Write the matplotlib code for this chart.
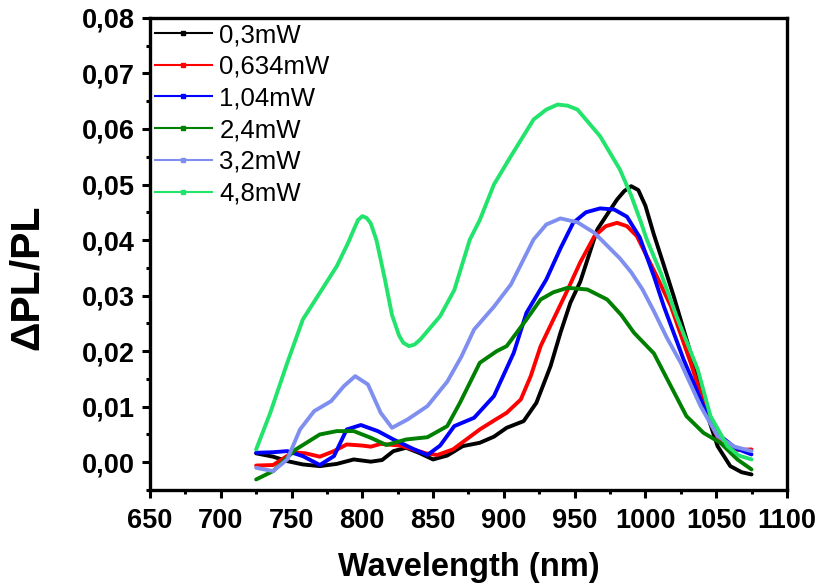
import matplotlib
matplotlib.use("Agg")
import matplotlib.pyplot as plt
from matplotlib.lines import Line2D
from matplotlib.ticker import MultipleLocator, FixedLocator

# ---------------- data ----------------
labels = ["0,3mW", "0,634mW", "1,04mW", "2,4mW", "3,2mW", "4,8mW"]
colors = ["#000000", "#FF0000", "#0000FF", "#008000", "#7F8FEF", "#22E36B"]

wl_03 = [725, 737, 747, 758, 770, 782, 794, 806, 814, 822, 831, 840, 850, 860, 871, 883, 893, 902,
         914, 923, 933, 940, 947, 954, 966, 974, 980, 985, 990, 995, 1000, 1006, 1013, 1020, 1034,
         1044, 1051, 1060, 1068, 1075]
pl_03 = [0.0016, 0.0010, 0.0002, -0.0004, -0.0007, -0.0003, 0.0005, 0.0001, 0.0004, 0.0020, 0.0026,
         0.0017, 0.0005, 0.0012, 0.0029, 0.0035, 0.0046, 0.0062, 0.0074, 0.0107, 0.0173, 0.0233,
         0.0287, 0.0325, 0.0419, 0.0450, 0.0473, 0.0488, 0.0497, 0.0490, 0.0462, 0.0410, 0.0355,
         0.0299, 0.0179, 0.0083, 0.0029, -0.0007, -0.0018, -0.0022]

wl_0634 = [725, 737, 751, 760, 770, 780, 789, 800, 806, 813, 827, 836, 845, 853, 864, 873, 883, 893,
           902, 912, 919, 926, 935, 945, 954, 964, 972, 980, 987, 994, 1008, 1018, 1032, 1044, 1053,
           1063, 1075]
pl_0634 = [-0.0006, -0.0005, 0.0018, 0.0016, 0.0010, 0.0020, 0.0032, 0.0030, 0.0028, 0.0033, 0.0030,
           0.0023, 0.0016, 0.0013, 0.0023, 0.0040, 0.0059, 0.0075, 0.0089, 0.0113, 0.0155, 0.0209,
           0.0257, 0.0310, 0.0360, 0.0407, 0.0425, 0.0431, 0.0425, 0.0407, 0.0335, 0.0281, 0.0179,
           0.0083, 0.0035, 0.0022, 0.0023]

wl_104 = [725, 737, 747, 758, 770, 780, 789, 799, 811, 822, 836, 846, 855, 865, 879, 893, 907, 916,
          930, 940, 949, 958, 968, 978, 987, 996, 1006, 1013, 1027, 1041, 1053, 1064, 1075]
pl_104 = [0.0017, 0.0018, 0.0020, 0.0011, -0.0005, 0.0011, 0.0059, 0.0067, 0.0056, 0.0041, 0.0024,
          0.0013, 0.0030, 0.0065, 0.0080, 0.0119, 0.0197, 0.0269, 0.0329, 0.0385, 0.0431, 0.0450,
          0.0457, 0.0455, 0.0442, 0.0405, 0.0335, 0.0281, 0.0185, 0.0101, 0.0047, 0.0025, 0.0014]

wl_24 = [725, 737, 753, 770, 782, 794, 806, 817, 831, 846, 860, 869, 883, 895, 902, 916, 926, 935,
         945, 959, 973, 983, 992, 1006, 1018, 1029, 1041, 1053, 1065, 1075]
pl_24 = [-0.0031, -0.0016, 0.0023, 0.0050, 0.0056, 0.0056, 0.0044, 0.0031, 0.0041, 0.0045, 0.0065,
         0.0107, 0.0179, 0.0200, 0.0209, 0.0257, 0.0293, 0.0306, 0.0314, 0.0311, 0.0293, 0.0265,
         0.0233, 0.0196, 0.0137, 0.0083, 0.0053, 0.0035, 0.0005, -0.0013]

wl_32 = [725, 737, 747, 756, 766, 778, 787, 795, 804, 813, 821, 832, 846, 860, 870, 879, 893, 905,
         921, 930, 940, 952, 964, 982, 990, 998, 1006, 1015, 1025, 1039, 1051, 1063, 1075]
pl_32 = [-0.0010, -0.0016, 0.0005, 0.0059, 0.0092, 0.0110, 0.0137, 0.0155, 0.0140, 0.0089, 0.0062,
         0.0077, 0.0101, 0.0145, 0.0190, 0.0239, 0.0280, 0.0320, 0.0401, 0.0428, 0.0439, 0.0432,
         0.0413, 0.0367, 0.0342, 0.0311, 0.0272, 0.0225, 0.0179, 0.0101, 0.0047, 0.0028, 0.0020]

wl_48 = [725, 735, 747, 758, 770, 782, 790, 794, 797, 800, 803, 806, 810, 813, 816, 821, 826, 829,
         833, 837, 841, 855, 865, 876, 883, 893, 905, 921, 930, 938, 945, 952, 968, 982, 990, 997,
         1001, 1011, 1022, 1037, 1046, 1058, 1066, 1075]
pl_48 = [0.0023, 0.0089, 0.0179, 0.0257, 0.0305, 0.0353, 0.0395, 0.0419, 0.0436, 0.0443, 0.0440,
         0.0430, 0.0400, 0.0365, 0.0329, 0.0265, 0.0228, 0.0215, 0.0209, 0.0212, 0.0221, 0.0263,
         0.0310, 0.0401, 0.0436, 0.0500, 0.0551, 0.0617, 0.0635, 0.0644, 0.0642, 0.0635, 0.0587,
         0.0527, 0.0480, 0.0431, 0.0401, 0.0340, 0.0263, 0.0167, 0.0083, 0.0029, 0.0012, 0.0005]

xticks = [650, 700, 750, 800, 850, 900, 950, 1000, 1050, 1100]
yticks = [0.00, 0.01, 0.02, 0.03, 0.04, 0.05, 0.06, 0.07, 0.08]
ytick_labels = ["0,00", "0,01", "0,02", "0,03", "0,04", "0,05", "0,06", "0,07", "0,08"]

series_x = [wl_03, wl_0634, wl_104, wl_24, wl_32, wl_48]
series_y = [pl_03, pl_0634, pl_104, pl_24, pl_32, pl_48]

# ---------------- plot ----------------
plt.rcParams['font.family'] = ['Liberation Sans', 'DejaVu Sans']

fig = plt.figure(figsize=(8.24, 5.85), dpi=100)
ax = fig.add_axes([0.182, 0.1624, 0.773, 0.807])

for x, y, c in zip(series_x, series_y, colors):
    ax.plot(x, y, color=c, lw=2.8, solid_joinstyle='round', solid_capstyle='round')

ax.set_xlim(650, 1100)
ax.set_ylim(-0.005, 0.08)
ax.xaxis.set_major_locator(FixedLocator(xticks))
ax.xaxis.set_minor_locator(MultipleLocator(25))
ax.yaxis.set_major_locator(FixedLocator(yticks))
ax.set_yticklabels(ytick_labels)
ax.yaxis.set_minor_locator(MultipleLocator(0.005))

for s in ax.spines.values():
    s.set_linewidth(2.4)
ax.tick_params(which='major', direction='out', length=6, width=2.2, labelsize=19.5,
               top=False, right=False, pad=5)
ax.tick_params(which='major', axis='x', pad=7)
ax.tick_params(which='minor', direction='out', length=3, width=2.2, top=False, right=False)
for lab in ax.get_xticklabels() + ax.get_yticklabels():
    lab.set_fontweight('bold')

ax.set_xlabel("Wavelength (nm)", fontsize=23.5, fontweight='bold', labelpad=13)
ax.set_ylabel("ΔPL/PL", fontsize=29.5, fontweight='bold')
ax.yaxis.set_label_coords(-0.163, 0.451)

handles = [Line2D([], [], color=c, lw=1.5, marker='s', markersize=3.5) for c in colors]
ax.legend(handles, labels, loc='upper left', frameon=False, fontsize=18.5,
          handlelength=2.2, handletextpad=0.3, labelspacing=0.3,
          borderpad=0.1, borderaxespad=0.1, bbox_to_anchor=(0.0, 1.0))

fig.savefig("out.png", dpi=100)
